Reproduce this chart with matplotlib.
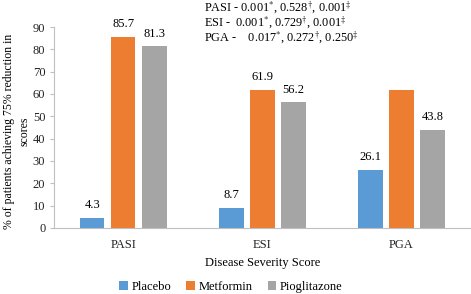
import matplotlib.pyplot as plt
import numpy as np

plt.rcParams['font.family'] = 'Liberation Serif'
plt.rcParams['mathtext.fontset'] = 'stix'

# data
categories = ['PASI', 'ESI', 'PGA']
groups = ['Placebo', 'Metformin', 'Pioglitazone']
placebo = [4.3, 8.7, 26.1]
metformin = [85.7, 61.9, 61.9]
pioglitazone = [81.3, 56.2, 43.8]
labels_placebo = ['4.3', '8.7', '26.1']
labels_metformin = ['85.7', '61.9', '']
labels_pioglitazone = ['81.3', '56.2', '43.8']
pvalue_lines = [
    r'PASI - 0.001$^{*}$, 0.528$^{\dagger}$, 0.001$^{\ddagger}$',
    r'ESI -  0.001$^{*}$, 0.729$^{\dagger}$, 0.001$^{\ddagger}$',
    r'PGA -    0.017$^{*}$, 0.272$^{\dagger}$, 0.250$^{\ddagger}$',
]

colors = ['#5B9BD5', '#ED7D31', '#A5A5A5']

fig = plt.figure(figsize=(4.71, 2.94), dpi=100)
ax = fig.add_axes([0.114, 0.225, 0.886, 0.683])

x = np.arange(len(categories))
w = 0.176
step = 0.223
series = [(placebo, labels_placebo), (metformin, labels_metformin),
          (pioglitazone, labels_pioglitazone)]
for i, (vals, labs) in enumerate(series):
    bars = ax.bar(x + (i - 1) * step, vals, w, color=colors[i], label=groups[i])
    ax.bar_label(bars, labels=labs, padding=5, fontsize=9)

ax.set_xlim(-0.5, 2.5)
ax.set_ylim(0, 90)
ax.set_yticks(np.arange(0, 91, 10))
ax.set_xticks(x)
ax.set_xticklabels(categories)
ax.tick_params(axis='both', labelsize=9, colors='#222222')
ax.tick_params(axis='x', length=0, pad=8)
ax.tick_params(axis='y', length=3, color='#BFBFBF', pad=3)
for s in ['top', 'right']:
    ax.spines[s].set_visible(False)
ax.spines['left'].set_color('#BFBFBF')
ax.spines['bottom'].set_color('#BFBFBF')

ax.set_xlabel('Disease Severity Score', fontsize=9, labelpad=4)
fig.text(0.035, 0.552, '% of patients achieving 75% reduction in\nscores',
         rotation=90, ha='center', va='center', fontsize=8.5, linespacing=1.4)

for k, line in enumerate(pvalue_lines):
    fig.text(204 / 471, 1 - (10.5 + 15 * k) / 294, line, fontsize=8.8,
             ha='left', va='baseline')

fig.legend(loc='center', bbox_to_anchor=(0.49, 0.025), ncol=3, frameon=False,
           fontsize=9, handlelength=0.7, handleheight=0.7, handletextpad=0.3,
           columnspacing=1.2)

fig.savefig('out.png', dpi=100)
